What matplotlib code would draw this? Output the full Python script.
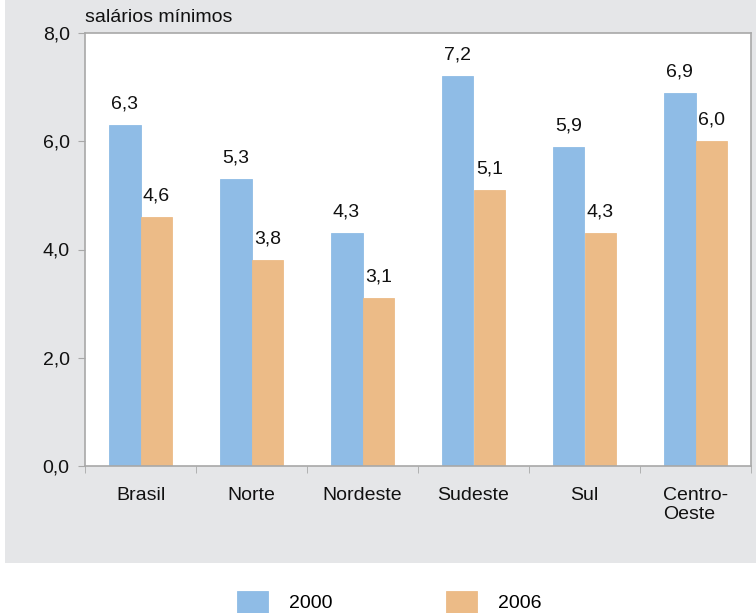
import matplotlib
matplotlib.use("Agg")
import matplotlib.pyplot as plt
import numpy as np
from matplotlib.patches import Rectangle

categories = ["Brasil", "Norte", "Nordeste", "Sudeste", "Sul", "Centro-\nOeste"]
values_2000 = [6.3, 5.3, 4.3, 7.2, 5.9, 6.9]
values_2006 = [4.6, 3.8, 3.1, 5.1, 4.3, 6.0]
series_names = ["2000", "2006"]
yticks = [0, 2, 4, 6, 8]
ytick_labels = ["0,0", "2,0", "4,0", "6,0", "8,0"]

blue = "#8fbce6"
orange = "#ecbb87"
panel = "#e5e6e8"
spine = "#a8a8a8"
FS = 14

plt.rcParams['font.family'] = ['Liberation Sans', 'DejaVu Sans']

fig = plt.figure(figsize=(7.56, 6.13), dpi=100)
fig.patch.set_facecolor("white")
fig.patches.append(Rectangle((5/756, 1-563/613), 1-5/756, 563/613,
                             transform=fig.transFigure, facecolor=panel,
                             edgecolor="none", zorder=-10))

ax = fig.add_axes([85/756, 1-466/613, 666/756, (466-33)/613])
ax.set_facecolor("white")

x = np.arange(len(categories))
w = 0.288
b1 = ax.bar(x - w/2, values_2000, w, color=blue, label=series_names[0],
            linewidth=0.6, edgecolor=blue)
b2 = ax.bar(x + w/2, values_2006, w, color=orange, label=series_names[1],
            linewidth=0.6, edgecolor=orange)

def fmt(v):
    return f"{v:.1f}".replace(".", ",")

for bars, vals in ((b1, values_2000), (b2, values_2006)):
    for r, v in zip(bars, vals):
        ax.annotate(fmt(v), (r.get_x() + r.get_width()/2, v),
                    xytext=(0, 9), textcoords="offset points",
                    ha="center", va="bottom", fontsize=FS, color="#111111")

ax.set_xlim(-0.5, len(categories) - 0.5)
ax.set_ylim(0, 8)
ax.set_yticks(yticks)
ax.set_yticklabels(ytick_labels, fontsize=FS)
ax.set_xticks(x)
ax.set_xticklabels(categories, fontsize=FS, multialignment="left", va="top")
ax.tick_params(axis="x", length=0, pad=15, labelcolor="#111111")
ax.set_xticks(np.arange(-0.5, len(categories), 1.0), minor=True)
ax.tick_params(axis="x", which="minor", length=5, color=spine, direction="out")
ax.tick_params(axis="y", length=5, color=spine, pad=6, labelcolor="#111111")

for s in ax.spines.values():
    s.set_color(spine)
    s.set_linewidth(1.2)

fig.text(85/756, 1-18/613, "salários mínimos", fontsize=FS, ha="left",
         va="center", color="#111111")

leg = fig.legend(handles=[b1, b2], labels=series_names, loc="center left",
                 bbox_to_anchor=(237/756, 1-602/613), ncol=2, frameon=False,
                 fontsize=FS, handlelength=1.6, handleheight=1.35,
                 handletextpad=1.1, columnspacing=5.8, borderaxespad=0,
                 borderpad=0)

fig.savefig("out.png", dpi=100, facecolor=fig.get_facecolor())
